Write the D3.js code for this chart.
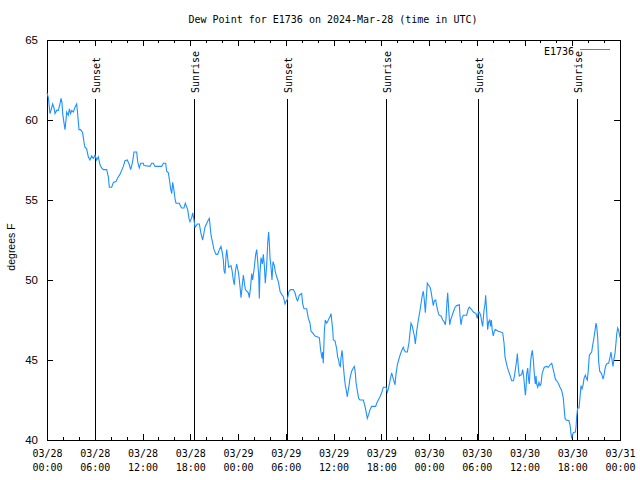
<!DOCTYPE html>
<html><head><meta charset="utf-8">
<script src="https://cdn.jsdelivr.net/npm/d3@7"></script>
<style>body{margin:0;background:#fff} svg{display:block}</style>
</head><body><svg id="c" width="640" height="480"></svg>
<script>
// [hours since 2024-03-28 00:00 UTC, dew point °F]
const day1 = [[0,61.7],[0.17,61.4],[0.38,60.4],[0.5,60.6],[0.71,61.0],[0.88,60.75],[1.01,60.4],[1.21,60.6],[1.42,60.6],[1.63,61.0],[1.76,61.35],[1.88,61.1],[1.97,60.4],[2.14,59.8],[2.26,59.4],[2.39,60.0],[2.47,60.5],[2.68,60.3],[2.81,60.7],[2.97,60.4],[3.1,60.6],[3.31,60.5],[3.52,60.8],[3.73,61.0],[3.85,60.4],[4.02,59.4],[4.23,59.4],[4.48,59.2],[4.65,58.6],[4.77,58.3],[4.98,58.2],[5.19,57.7],[5.4,57.5],[5.61,57.75],[5.82,57.6],[6.03,57.8],[6.24,57.5],[6.45,57.7],[6.66,57.2],[6.87,57.0],[7.08,56.9],[7.5,56.9],[7.71,56.45],[7.83,55.8],[8.13,55.8],[8.34,56.1],[8.67,56.15],[8.96,56.45],[9.17,56.6],[9.38,56.85],[9.59,57.1],[9.8,57.45],[10.09,57.5],[10.35,57.2],[10.51,56.9],[10.76,57.4],[10.93,58.0],[11.27,58.0],[11.39,57.4],[11.6,57.0],[11.77,57.3],[12.1,57.3],[12.19,57.15],[12.94,57.1],[13.15,57.3],[13.36,57.3],[13.57,57.1],[14.41,57.1],[14.62,57.3],[14.91,57.3],[15.04,56.8],[15.25,56.7],[15.37,56.3],[15.54,55.7],[15.67,55.4],[15.79,56.1],[15.96,55.6],[16.08,55.1],[16.21,54.8],[16.63,54.8],[16.8,54.6],[16.92,54.5],[17.21,54.5],[17.38,54.8],[17.68,54.4],[17.84,53.85],[17.97,53.65],[18.18,53.9],[18.31,54.2],[18.47,53.75],[18.6,53.3],[18.77,53.4],[18.89,53.5],[19.14,53.5],[19.35,52.9],[19.56,52.5],[19.85,53.3],[20.27,53.75],[20.4,53.85],[20.61,52.8],[20.82,52.3],[20.98,51.9],[21.24,51.6],[21.45,51.6],[21.65,51.9],[21.86,52.1],[22.03,51.7],[22.16,51.25],[22.24,50.6],[22.37,50.4],[22.49,51.45],[22.58,51.9],[22.83,50.8],[23.12,50.9],[23.25,50.6],[23.41,50.0],[23.54,49.7],[23.66,50.5],[23.83,51.0]];
const day2 = [[24.08,50.4],[24.25,49.6],[24.38,48.9],[24.67,50.3],[24.92,49.4],[25.3,49.2],[25.42,48.9],[25.59,49.6],[25.72,50.4],[25.84,50.0],[26.05,50.8],[26.22,51.6],[26.35,51.9],[26.47,51.2],[26.6,50.3],[26.68,48.85],[26.76,50.4],[26.89,51.4],[27.06,51.0],[27.18,51.6],[27.31,50.9],[27.43,49.8],[27.6,50.9],[27.73,52.3],[27.85,53.0],[27.94,52.3],[28.02,51.4],[28.15,50.8],[28.27,50.0],[28.4,51.15],[28.57,50.9],[28.69,50.5],[28.86,50.2],[29.07,49.9],[29.28,49.3],[29.49,49.1],[29.7,48.95],[29.91,48.5],[30.03,48.65],[30.2,48.8],[30.41,49.3],[30.62,49.4],[30.95,49.4],[31.16,49.2],[31.37,48.8],[31.5,48.7],[31.71,49.05],[32,49.15],[32.13,48.5],[32.29,48.2],[32.63,48.2],[32.84,47.6],[33.05,47.3],[33.18,46.8],[33.38,46.7],[33.68,46.5],[34.22,46.4],[34.39,45.6],[34.56,45.1],[34.64,45.5],[34.72,44.8],[34.85,46.8],[34.97,47.5],[35.14,47.3],[35.27,47.4],[35.43,47.6],[35.56,47.7],[35.69,47.9],[35.77,47.5],[35.9,46.9],[35.98,46.25],[36.19,46.2],[36.4,45.7],[36.52,45.2],[36.65,45.0],[36.73,44.7],[36.86,44.6],[36.94,45.1],[37.07,45.6],[37.15,45.2],[37.24,44.6],[37.36,43.95],[37.49,43.4],[37.61,43.1],[37.74,42.7],[37.82,43.0],[37.95,43.4],[38.07,43.85],[38.28,44.3],[38.49,44.5],[38.62,44.6],[38.74,44.2],[38.83,43.6],[38.99,43.1],[39.16,42.6],[39.33,42.5],[39.75,42.5],[39.96,42.1],[40.08,41.8],[40.25,41.35],[40.42,41.6],[40.59,41.9],[40.8,42.1],[41.3,42.1],[41.43,42.3],[41.63,42.5],[41.84,42.7],[42.05,42.95],[42.26,43.3],[42.6,43.3],[42.76,43.0],[42.89,43.2],[43.02,43.5],[43.18,43.9],[43.31,44.2],[43.52,43.8],[43.73,43.45],[43.85,44.1],[44.02,44.7],[44.19,45.0],[44.36,45.3],[44.57,45.6],[44.77,45.8],[44.9,45.6],[45.07,45.5],[45.28,45.5],[45.49,46.1],[45.61,46.7],[45.74,47.3],[45.91,47.1],[46.03,46.8],[46.16,46.5],[46.28,46.0],[46.45,46.8],[46.66,47.5],[46.87,48.1],[46.99,48.5],[47.16,49.05],[47.29,49.3],[47.41,48.75],[47.54,47.95],[47.62,48.6],[47.79,49.8],[47.92,49.7]];
const day3 = [[48.13,49.55],[48.25,49.3],[48.38,48.9],[48.54,48.4],[48.67,48.7],[48.84,48.75],[48.96,48.4],[49.09,48.1],[49.26,47.8],[49.51,47.75],[49.72,47.5],[49.89,47.4],[50.05,47.2],[50.14,47.6],[50.26,48.65],[50.35,49.2],[50.47,48.2],[50.6,47.2],[50.72,47.5],[50.85,47.7],[51.06,48.0],[51.27,48.3],[51.48,48.4],[51.81,48.45],[51.9,47.75],[52.02,47.2],[52.15,47.6],[52.31,47.8],[52.73,47.8],[52.94,48.2],[53.07,48.3],[53.28,48.2],[53.57,48.0],[53.91,47.9],[54.07,47.6],[54.2,48.0],[54.32,48.0],[54.49,47.8],[54.62,47.4],[54.74,47.1],[54.91,48.1],[55.04,48.5],[55.12,49.05],[55.25,48.0],[55.37,46.9],[55.5,47.4],[55.62,47.5],[55.75,47.1],[55.83,47.5],[55.96,46.8],[56.08,46.5],[56.21,46.8],[56.34,46.9],[56.71,46.8],[57.01,46.75],[57.26,46.7],[57.43,46.05],[57.55,45.2],[57.68,44.9],[57.84,44.55],[57.97,44.35],[58.18,44.05],[58.39,43.7],[58.6,43.7],[58.72,43.95],[58.85,44.4],[59.02,45.0],[59.1,45.4],[59.23,44.5],[59.35,44.0],[59.65,44.1],[59.77,44.4],[59.9,43.95],[60.02,43.3],[60.11,42.8],[60.19,43.2],[60.27,44.1],[60.4,44.5],[60.52,43.75],[60.61,43.5],[60.69,44.3],[60.77,44.9],[60.86,45.3],[60.98,45.6],[61.11,45.0],[61.24,44.1],[61.36,43.5],[61.45,44.0],[61.53,43.5],[61.66,43.3],[61.82,43.6],[61.95,43.4],[62.07,43.5],[62.2,44.1],[62.37,44.4],[62.49,44.55],[62.79,44.6],[63.0,44.55],[63.21,44.7],[63.42,44.8],[63.54,44.55],[63.71,44.2],[63.88,43.8],[64.04,43.7],[64.25,43.55],[64.46,43.3],[64.67,43.1],[64.8,42.8],[64.88,42.6],[64.96,42.1],[65.09,41.35],[65.22,41.25],[65.59,41.2],[65.72,40.95],[65.84,40.4],[65.93,40.1],[66.01,40.3],[66.14,40.45],[66.39,40.5],[66.47,40.8],[66.56,41.45],[66.68,42.0],[66.85,42.0],[66.98,42.7],[67.1,43.4],[67.23,43.2],[67.35,43.4],[67.48,43.85],[67.65,44.05],[67.77,43.85],[67.9,43.75],[68.02,44.4],[68.15,45.3],[68.28,45.4],[68.44,45.5],[68.57,45.95],[68.69,46.25],[68.82,46.7],[68.99,47.3],[69.07,47.1],[69.2,46.4],[69.32,44.9],[69.45,44.3],[69.62,44.2],[69.74,44.05],[69.87,43.8],[69.99,44.05],[70.12,44.45],[70.25,44.7],[70.41,44.8],[70.58,44.8],[70.75,45.2],[70.87,45.5],[71.0,45.0],[71.12,44.6],[71.25,45.1],[71.37,45.4],[71.5,46.1],[71.58,46.6],[71.71,47.0],[71.83,46.85],[72,46.4]];

const sunsetHours = [6.05, 30.2, 54.2];
const sunriseHours = [18.5, 42.6, 66.6];
const yTicks = [40, 45, 50, 55, 60, 65];
const majorStepHours = 6;
const minorStepHours = 2;
const seriesName = "E1736";
const titleText = "Dew Point for E1736 on 2024-Mar-28 (time in UTC)";
const yLabelText = "degrees F";
const startUTC = Date.UTC(2024, 2, 28, 0, 0);
const endUTC = Date.UTC(2024, 2, 31, 0, 0);

const L = 47, R = 620, T = 40, B = 440;
const MONO = "'DejaVu Sans Mono', monospace";
const SANS = "'Liberation Sans', Arial, sans-serif";
const BLUE = "#1e90ff";

const toDate = h => new Date(startUTC + h * 3600e3);
const svg = d3.select("#c");
const x = d3.scaleUtc().domain([new Date(startUTC), new Date(endUTC)]).range([L, R]);
const y = d3.scaleLinear().domain([40, 65]).range([B, T]);

const majorTicks = d3.utcHour.every(majorStepHours).range(new Date(startUTC), new Date(endUTC + 1));
const minorTicks = d3.utcHour.every(minorStepHours).range(new Date(startUTC), new Date(endUTC + 1))
  .filter(d => d.getUTCHours() % majorStepHours !== 0);

// bottom major axis with labels
const fmtDate = d3.utcFormat("%m/%d"), fmtTime = d3.utcFormat("%H:%M");
const gB = svg.append("g").attr("transform", `translate(0,${B})`)
  .call(d3.axisBottom(x).tickValues(majorTicks).tickSizeInner(-6).tickSizeOuter(0).tickPadding(10).tickFormat(() => ""));
gB.selectAll(".tick text").each(function(d) {
  const t = d3.select(this).attr("font-family", MONO).attr("font-size", 10).attr("fill", "#000");
  t.append("tspan").attr("x", 0).text(fmtDate(d));
  t.append("tspan").attr("x", 0).attr("dy", 14).text(fmtTime(d));
});
svg.append("g").attr("transform", `translate(0,${B})`)
  .call(d3.axisBottom(x).tickValues(minorTicks).tickSizeInner(-3).tickSizeOuter(0).tickFormat(() => ""));
// top mirror
svg.append("g").attr("transform", `translate(0,${T})`)
  .call(d3.axisTop(x).tickValues(majorTicks).tickSizeInner(-6).tickSizeOuter(0).tickFormat(() => ""));
svg.append("g").attr("transform", `translate(0,${T})`)
  .call(d3.axisTop(x).tickValues(minorTicks).tickSizeInner(-3).tickSizeOuter(0).tickFormat(() => ""));
// left axis
const gL = svg.append("g").attr("transform", `translate(${L},0)`)
  .call(d3.axisLeft(y).tickValues(yTicks).tickSizeInner(-6).tickSizeOuter(0).tickPadding(9).tickFormat(d3.format("d")));
gL.selectAll(".tick text").attr("font-family", SANS).attr("font-size", 11.5).attr("fill", "#000");
// right mirror
svg.append("g").attr("transform", `translate(${R},0)`)
  .call(d3.axisRight(y).tickValues(yTicks).tickSizeInner(-6).tickSizeOuter(0).tickFormat(() => ""));
svg.selectAll(".domain").remove();
svg.selectAll(".tick line").attr("stroke", "#000").attr("shape-rendering", "crispEdges");

// border
svg.append("rect").attr("x", L + 0.5).attr("y", T + 0.5).attr("width", R - L).attr("height", B - T)
  .attr("fill", "none").attr("stroke", "#000").attr("shape-rendering", "crispEdges");

// sunrise / sunset markers
const sunEvents = sunsetHours.map(h => ({h, label: "Sunset"}))
  .concat(sunriseHours.map(h => ({h, label: "Sunrise"})));
sunEvents.forEach(e => {
  const px = Math.round(x(toDate(e.h))) + 0.5;
  svg.append("line").attr("x1", px).attr("x2", px).attr("y1", 99).attr("y2", B)
    .attr("stroke", "#000").attr("shape-rendering", "crispEdges");
  svg.append("text").attr("transform", `translate(${px + 4.5},93) rotate(-90)`)
    .attr("font-family", MONO).attr("font-size", 10).attr("fill", "#000").text(e.label);
});

// data line
const readings = day1.concat(day2, day3);
const line = d3.line().x(d => x(toDate(d[0]))).y(d => y(d[1]));
svg.append("path").datum(readings).attr("d", line)
  .attr("fill", "none").attr("stroke", BLUE).attr("stroke-width", 1.1);

// legend
svg.append("text").attr("x", 574).attr("y", 54.5).attr("text-anchor", "end")
  .attr("font-family", MONO).attr("font-size", 10).attr("fill", "#000").text(seriesName);
svg.append("line").attr("x1", 580).attr("x2", 610).attr("y1", 49.5).attr("y2", 49.5)
  .attr("stroke", BLUE).attr("shape-rendering", "crispEdges");

// title & y label
svg.append("text").attr("x", 333).attr("y", 23).attr("text-anchor", "middle")
  .attr("font-family", MONO).attr("font-size", 10).attr("fill", "#000").text(titleText);
svg.append("text").attr("transform", "translate(14.5,247) rotate(-90)").attr("text-anchor", "middle")
  .attr("font-family", SANS).attr("font-size", 10.5).attr("fill", "#000").text(yLabelText);
</script></body></html>
